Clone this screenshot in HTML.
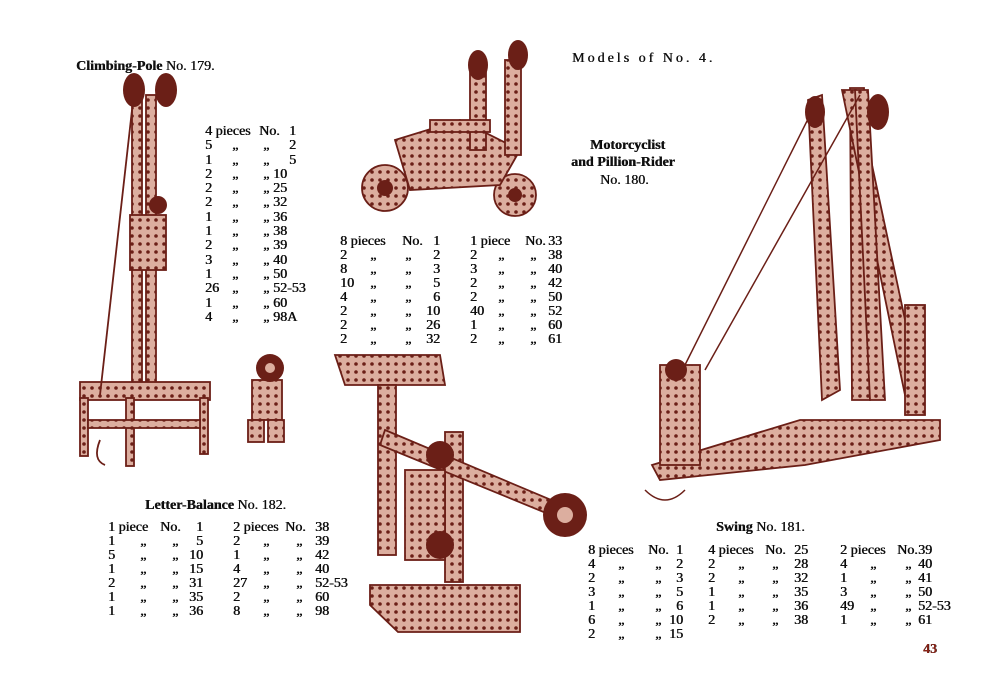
<!DOCTYPE html>
<html><head><meta charset="utf-8"><style>
body{margin:0;width:1000px;height:700px;background:#fff;position:relative;overflow:hidden;font-family:"Liberation Serif",serif;color:#111}
.t{position:absolute;white-space:pre;font-size:14px;line-height:14px;text-shadow:0.4px 0 0 #000}
.h{font-weight:bold;font-family:"Liberation Serif",serif}
.L{position:absolute}
.L div{position:relative;height:14px;font-size:14px;line-height:14px;white-space:pre;text-shadow:0.5px 0 0 #000}
.L span{position:absolute;top:0}
.n{text-align:right}
svg{position:absolute;left:0;top:0}
</style></head><body>
<svg width="1000" height="700" viewBox="0 0 1000 700">
<defs>
<pattern id="holes" width="8" height="8" patternUnits="userSpaceOnUse"><rect width="8" height="8" fill="#dcae9f"/><circle cx="4" cy="4" r="1.8" fill="#6b1f17"/></pattern>
</defs>
<g stroke="#6b1f17" stroke-width="1.8" fill="url(#holes)">
<rect x="132" y="95" width="10" height="300"/><rect x="146" y="95" width="10" height="300"/>
<rect x="80" y="382" width="130" height="18"/>
<rect x="80" y="398" width="8" height="58"/><rect x="126" y="398" width="8" height="68"/><rect x="200" y="398" width="8" height="56"/>
<rect x="88" y="420" width="112" height="8"/>
<rect x="130" y="215" width="36" height="55"/>
<line x1="132" y1="110" x2="100" y2="395" fill="none"/>
<path d="M100 440 q-8 20 5 25" fill="none"/>
</g>
<g fill="#6b1f17">
<ellipse cx="134" cy="90" rx="11" ry="17"/><ellipse cx="166" cy="90" rx="11" ry="17"/>
<circle cx="158" cy="205" r="9"/>
</g>
<g stroke="#6b1f17" stroke-width="1.8" fill="url(#holes)">
<rect x="252" y="380" width="30" height="40"/><rect x="248" y="420" width="16" height="22"/><rect x="268" y="420" width="16" height="22"/>
</g>
<circle cx="270" cy="368" r="14" fill="#6b1f17"/><circle cx="270" cy="368" r="5" fill="#dcae9f"/>
<g stroke="#6b1f17" stroke-width="1.8" fill="url(#holes)">
<circle cx="385" cy="188" r="23"/><circle cx="515" cy="195" r="21"/>
<polygon points="395,140 460,120 520,150 500,185 410,190" />
<rect x="470" y="70" width="16" height="80"/><rect x="505" y="60" width="16" height="95"/>
<rect x="430" y="120" width="60" height="12"/>
</g>
<g fill="#6b1f17"><ellipse cx="478" cy="65" rx="10" ry="15"/><ellipse cx="518" cy="55" rx="10" ry="15"/><circle cx="385" cy="188" r="8"/><circle cx="515" cy="195" r="7"/></g>
<g stroke="#6b1f17" stroke-width="1.8" fill="url(#holes)">
<polygon points="335,355 440,355 445,385 345,385"/>
<rect x="378" y="385" width="18" height="170"/>
<rect x="445" y="432" width="18" height="150"/>
<polygon points="385,430 575,510 568,522 380,445"/>
<rect x="405" y="470" width="40" height="90"/>
<polygon points="370,585 520,585 520,632 398,632 370,605"/>
</g>
<g fill="#6b1f17"><circle cx="565" cy="515" r="22"/><circle cx="440" cy="455" r="14"/><circle cx="440" cy="545" r="14"/></g>
<circle cx="565" cy="515" r="8" fill="#dcae9f"/>
<g stroke="#6b1f17" stroke-width="1.8" fill="url(#holes)">
<polygon points="808,100 822,95 840,390 822,400"/>
<polygon points="850,88 864,88 870,400 852,400"/>
<polygon points="842,90 856,90 920,390 905,395"/>
<polygon points="855,90 868,90 885,400 870,400"/>
<polygon points="652,465 800,420 940,420 940,440 805,465 660,480"/>
<rect x="660" y="365" width="40" height="100"/>
<rect x="905" y="305" width="20" height="110"/>
</g>
<g stroke="#6b1f17" stroke-width="1.5" fill="none">
<line x1="815" y1="105" x2="685" y2="365"/><line x1="860" y1="95" x2="705" y2="370"/>
<path d="M645 490 q20 20 40 0"/>
</g>
<g fill="#6b1f17"><ellipse cx="815" cy="112" rx="10" ry="16"/><ellipse cx="878" cy="112" rx="11" ry="18"/><circle cx="676" cy="370" r="11"/></g>
</svg>

<div class="t h" style="left:76px;top:60px">Climbing-Pole <span style="font-weight:normal">No. 179.</span></div>
<div class="t" style="left:572px;top:52px;letter-spacing:3px">Models of No. 4.</div>
<div class="t h" style="left:590px;top:139px">Motorcyclist</div>
<div class="t h" style="left:571px;top:156px">and Pillion-Rider</div>
<div class="t" style="left:600px;top:174px">No. 180.</div>
<div class="t h" style="left:145px;top:499px">Letter-Balance <span style="font-weight:normal">No. 182.</span></div>
<div class="t h" style="left:716px;top:521px">Swing <span style="font-weight:normal">No. 181.</span></div>
<div class="t h" style="left:923px;top:643px;color:#8a2418">43</div>

<div class="L" style="left:205px;top:125px">
<div style="height:14.3px"><span style="left:0">4 pieces</span><span style="left:54px">No.</span><span class="n" style="left:60px;width:31px">1</span></div>
<div style="height:14.3px"><span>5</span><span style="left:27px">„</span><span style="left:58px">„</span><span class="n" style="left:60px;width:31px">2</span></div>
<div style="height:14.3px"><span>1</span><span style="left:27px">„</span><span style="left:58px">„</span><span class="n" style="left:60px;width:31px">5</span></div>
<div style="height:14.3px"><span>2</span><span style="left:27px">„</span><span style="left:58px">„</span><span style="left:68px">10</span></div>
<div style="height:14.3px"><span>2</span><span style="left:27px">„</span><span style="left:58px">„</span><span style="left:68px">25</span></div>
<div style="height:14.3px"><span>2</span><span style="left:27px">„</span><span style="left:58px">„</span><span style="left:68px">32</span></div>
<div style="height:14.3px"><span>1</span><span style="left:27px">„</span><span style="left:58px">„</span><span style="left:68px">36</span></div>
<div style="height:14.3px"><span>1</span><span style="left:27px">„</span><span style="left:58px">„</span><span style="left:68px">38</span></div>
<div style="height:14.3px"><span>2</span><span style="left:27px">„</span><span style="left:58px">„</span><span style="left:68px">39</span></div>
<div style="height:14.3px"><span>3</span><span style="left:27px">„</span><span style="left:58px">„</span><span style="left:68px">40</span></div>
<div style="height:14.3px"><span>1</span><span style="left:27px">„</span><span style="left:58px">„</span><span style="left:68px">50</span></div>
<div style="height:14.3px"><span>26</span><span style="left:27px">„</span><span style="left:58px">„</span><span style="left:68px">52-53</span></div>
<div style="height:14.3px"><span>1</span><span style="left:27px">„</span><span style="left:58px">„</span><span style="left:68px">60</span></div>
<div style="height:14.3px"><span>4</span><span style="left:27px">„</span><span style="left:58px">„</span><span style="left:68px">98A</span></div>
</div>

<div class="L" style="left:340px;top:235px">
<div><span>8 pieces</span><span style="left:62px">No.</span><span class="n" style="left:70px;width:30px">1</span></div>
<div><span>2</span><span style="left:30px">„</span><span style="left:65px">„</span><span class="n" style="left:70px;width:30px">2</span></div>
<div><span>8</span><span style="left:30px">„</span><span style="left:65px">„</span><span class="n" style="left:70px;width:30px">3</span></div>
<div><span>10</span><span style="left:30px">„</span><span style="left:65px">„</span><span class="n" style="left:70px;width:30px">5</span></div>
<div><span>4</span><span style="left:30px">„</span><span style="left:65px">„</span><span class="n" style="left:70px;width:30px">6</span></div>
<div><span>2</span><span style="left:30px">„</span><span style="left:65px">„</span><span class="n" style="left:70px;width:30px">10</span></div>
<div><span>2</span><span style="left:30px">„</span><span style="left:65px">„</span><span class="n" style="left:70px;width:30px">26</span></div>
<div><span>2</span><span style="left:30px">„</span><span style="left:65px">„</span><span class="n" style="left:70px;width:30px">32</span></div>
</div>

<div class="L" style="left:470px;top:235px">
<div><span>1 piece</span><span style="left:55px">No.</span><span class="n" style="left:60px;width:32px">33</span></div>
<div><span>2</span><span style="left:28px">„</span><span style="left:60px">„</span><span class="n" style="left:60px;width:32px">38</span></div>
<div><span>3</span><span style="left:28px">„</span><span style="left:60px">„</span><span class="n" style="left:60px;width:32px">40</span></div>
<div><span>2</span><span style="left:28px">„</span><span style="left:60px">„</span><span class="n" style="left:60px;width:32px">42</span></div>
<div><span>2</span><span style="left:28px">„</span><span style="left:60px">„</span><span class="n" style="left:60px;width:32px">50</span></div>
<div><span>40</span><span style="left:28px">„</span><span style="left:60px">„</span><span class="n" style="left:60px;width:32px">52</span></div>
<div><span>1</span><span style="left:28px">„</span><span style="left:60px">„</span><span class="n" style="left:60px;width:32px">60</span></div>
<div><span>2</span><span style="left:28px">„</span><span style="left:60px">„</span><span class="n" style="left:60px;width:32px">61</span></div>
</div>

<div class="L" style="left:108px;top:521px">
<div><span>1 piece</span><span style="left:52px">No.</span><span class="n" style="left:70px;width:25px">1</span></div>
<div><span>1</span><span style="left:32px">„</span><span style="left:64px">„</span><span class="n" style="left:70px;width:25px">5</span></div>
<div><span>5</span><span style="left:32px">„</span><span style="left:64px">„</span><span class="n" style="left:70px;width:25px">10</span></div>
<div><span>1</span><span style="left:32px">„</span><span style="left:64px">„</span><span class="n" style="left:70px;width:25px">15</span></div>
<div><span>2</span><span style="left:32px">„</span><span style="left:64px">„</span><span class="n" style="left:70px;width:25px">31</span></div>
<div><span>1</span><span style="left:32px">„</span><span style="left:64px">„</span><span class="n" style="left:70px;width:25px">35</span></div>
<div><span>1</span><span style="left:32px">„</span><span style="left:64px">„</span><span class="n" style="left:70px;width:25px">36</span></div>
</div>

<div class="L" style="left:233px;top:521px">
<div><span>2 pieces</span><span style="left:52px">No.</span><span style="left:82px">38</span></div>
<div><span>2</span><span style="left:30px">„</span><span style="left:63px">„</span><span style="left:82px">39</span></div>
<div><span>1</span><span style="left:30px">„</span><span style="left:63px">„</span><span style="left:82px">42</span></div>
<div><span>4</span><span style="left:30px">„</span><span style="left:63px">„</span><span style="left:82px">40</span></div>
<div><span>27</span><span style="left:30px">„</span><span style="left:63px">„</span><span style="left:82px">52-53</span></div>
<div><span>2</span><span style="left:30px">„</span><span style="left:63px">„</span><span style="left:82px">60</span></div>
<div><span>8</span><span style="left:30px">„</span><span style="left:63px">„</span><span style="left:82px">98</span></div>
</div>

<div class="L" style="left:588px;top:544px">
<div><span>8 pieces</span><span style="left:60px">No.</span><span class="n" style="left:70px;width:25px">1</span></div>
<div><span>4</span><span style="left:30px">„</span><span style="left:67px">„</span><span class="n" style="left:70px;width:25px">2</span></div>
<div><span>2</span><span style="left:30px">„</span><span style="left:67px">„</span><span class="n" style="left:70px;width:25px">3</span></div>
<div><span>3</span><span style="left:30px">„</span><span style="left:67px">„</span><span class="n" style="left:70px;width:25px">5</span></div>
<div><span>1</span><span style="left:30px">„</span><span style="left:67px">„</span><span class="n" style="left:70px;width:25px">6</span></div>
<div><span>6</span><span style="left:30px">„</span><span style="left:67px">„</span><span class="n" style="left:70px;width:25px">10</span></div>
<div><span>2</span><span style="left:30px">„</span><span style="left:67px">„</span><span class="n" style="left:70px;width:25px">15</span></div>
</div>

<div class="L" style="left:708px;top:544px">
<div><span>4 pieces</span><span style="left:57px">No.</span><span style="left:86px">25</span></div>
<div><span>2</span><span style="left:30px">„</span><span style="left:64px">„</span><span style="left:86px">28</span></div>
<div><span>2</span><span style="left:30px">„</span><span style="left:64px">„</span><span style="left:86px">32</span></div>
<div><span>1</span><span style="left:30px">„</span><span style="left:64px">„</span><span style="left:86px">35</span></div>
<div><span>1</span><span style="left:30px">„</span><span style="left:64px">„</span><span style="left:86px">36</span></div>
<div><span>2</span><span style="left:30px">„</span><span style="left:64px">„</span><span style="left:86px">38</span></div>
</div>

<div class="L" style="left:840px;top:544px">
<div><span>2 pieces</span><span style="left:57px">No.</span><span style="left:78px">39</span></div>
<div><span>4</span><span style="left:30px">„</span><span style="left:65px">„</span><span style="left:78px">40</span></div>
<div><span>1</span><span style="left:30px">„</span><span style="left:65px">„</span><span style="left:78px">41</span></div>
<div><span>3</span><span style="left:30px">„</span><span style="left:65px">„</span><span style="left:78px">50</span></div>
<div><span>49</span><span style="left:30px">„</span><span style="left:65px">„</span><span style="left:78px">52-53</span></div>
<div><span>1</span><span style="left:30px">„</span><span style="left:65px">„</span><span style="left:78px">61</span></div>
</div>
</body></html>
